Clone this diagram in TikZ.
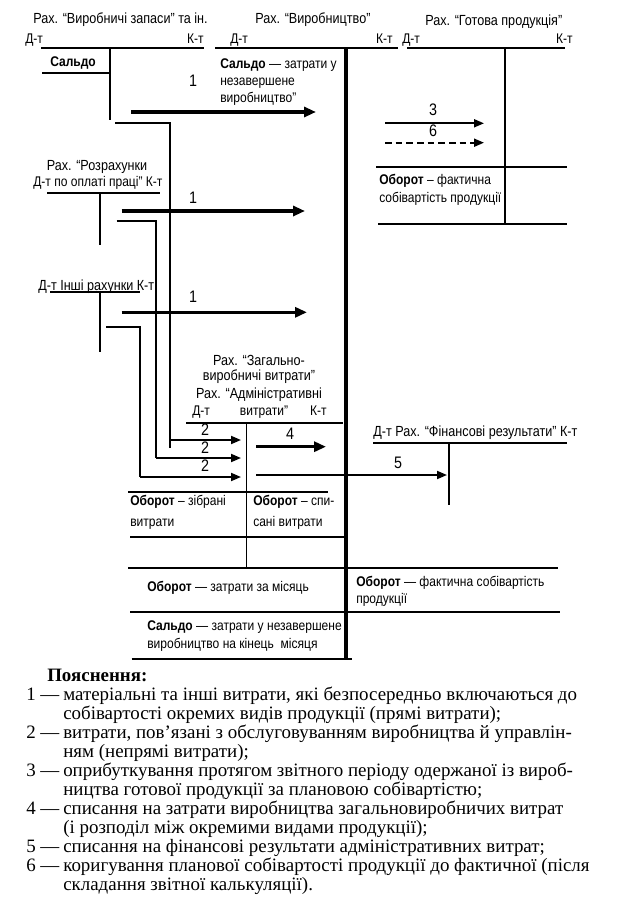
\documentclass[tikz,border=0pt]{standalone}
\usepackage{fontspec}
\setmainfont{Liberation Serif}
\newfontfamily\dfont[FakeStretch=0.86]{Liberation Sans}
\usetikzlibrary{arrows.meta}
\begin{document}
\begin{tikzpicture}[x=0.75pt,y=-0.75pt,
  acc/.style={line width=1.3pt},
  mainline/.style={line width=2.6pt},
  dt/.style={font=\dfont\fontsize{10.5}{12}\selectfont, inner sep=0pt},
  tt/.style={font=\dfont\fontsize{11}{13}\selectfont, inner sep=0pt},
  lw/.style={dt, anchor=mid west},
  le/.style={dt, anchor=mid east},
  lc/.style={dt, anchor=mid},
  tw/.style={tt, anchor=mid west},
  tc/.style={tt, anchor=mid},
  num/.style={font=\dfont\fontsize{12.5}{14}\selectfont, inner sep=0pt, anchor=mid},
  ex/.style={font=\fontsize{14.2}{16}\selectfont, inner sep=0pt, anchor=mid west},
  bigarr/.style={line width=2.4pt, -{Triangle[length=9pt,width=7.5pt]}},
  smallarr/.style={line width=1.4pt, -{Triangle[length=7.5pt,width=6pt]}},
  dasharr/.style={smallarr, dash pattern=on 5pt off 3pt}]
\useasboundingbox (0,0) rectangle (623,906);

% ---------- Account A: Виробничі запаси ----------
\node[tw] (Atitle) at (33,20) {Рах. “Виробничі запаси” та ін.};
\node[lw] (Adt) at (25,40) {Д-т};
\node[le] (Akt) at (204,40) {К-т};
\node[lw] (Asal) at (50,63) {\bfseries Сальдо};
\draw[acc] (41,48) coordinate (A1) -- (204,48) coordinate (A2);
\draw[acc] (110,48) coordinate (A3) -- (110,120) coordinate (A4);
\draw[acc] (42,73) coordinate (A5) -- (110,73) coordinate (A6);

% ---------- Account P: Виробництво ----------
\node[tw] (Ptitle) at (255,20) {Рах. “Виробництво”};
\node[lw] (Pdt) at (230,40) {Д-т};
\node[le] (Pkt) at (393,40) {К-т};
\node[lw] (Ps1) at (220,65) {{\bfseries Сальдо} — затрати у};
\node[lw] (Ps2) at (220,82) {незавершене};
\node[lw] (Ps3) at (220,99) {виробництво”};
\draw[acc] (215,48) coordinate (P1) -- (398,48) coordinate (P2);
\draw[mainline] (346,48) coordinate (P3) -- (346,659) coordinate (P4);

% ---------- Account G: Готова продукція ----------
\node[tw] (Gtitle) at (425,22) {Рах. “Готова продукція”};
\node[lw] (Gdt) at (402,40) {Д-т};
\node[le] (Gkt) at (573,40) {К-т};
\node[lw] (Go1) at (379,181) {{\bfseries Оборот} – фактична};
\node[lw] (Go2) at (379,199) {собівартість продукції};
\draw[acc] (407,48) coordinate (G1) -- (565,48) coordinate (G2);
\draw[acc] (505,48) coordinate (G3) -- (505,224) coordinate (G4);
\draw[acc] (376,166.7) coordinate (G5) -- (567,166.7) coordinate (G6);
\draw[acc] (378,224) coordinate (G7) -- (567,224) coordinate (G8);
\coordinate (a3s) at (385,123.3); \coordinate (a3e) at (484,123.3);
\coordinate (a6s) at (385,142.7); \coordinate (a6e) at (484,142.7);
\draw[smallarr] (a3s) -- (a3e);
\draw[dasharr] (a6s) -- (a6e);
\node[num] (l3) at (433,112) {3};
\node[num] (l6) at (433,133) {6};

% ---------- Account R: Розрахунки по оплаті праці ----------
\node[tc] (Rt1) at (97,167) {Рах. “Розрахунки};
\node[lw] (Rt2) at (33,183) {Д-т по оплаті праці” К-т};
\draw[acc] (47,193.3) coordinate (R1) -- (160,193.3) coordinate (R2);
\draw[acc] (100,193.3) coordinate (R3) -- (100,245) coordinate (R4);

% ---------- Account O: Інші рахунки ----------
\node[tw] (Ot) at (38,287) {Д-т Інші рахунки К-т};
\draw[acc] (50,291.7) coordinate (O1) -- (140,291.7) coordinate (O2);
\draw[acc] (100,291.7) coordinate (O3) -- (100,351.7) coordinate (O4);

% ---------- arrows 1 ----------
\coordinate (a1s) at (131,112);   \coordinate (a1e) at (316,112);
\coordinate (a1bs) at (121.7,211); \coordinate (a1be) at (305,211);
\coordinate (a1cs) at (121.7,312.3); \coordinate (a1ce) at (307,312.3);
\draw[bigarr] (a1s) -- (a1e);
\draw[bigarr] (a1bs) -- (a1be);
\draw[bigarr] (a1cs) -- (a1ce);
\node[num] (l1a) at (193,83) {1};
\node[num] (l1b) at (193,200) {1};
\node[num] (l1c) at (193,299) {1};

% ---------- brackets to account GV ----------
\draw[acc] (115,122.7) coordinate (B1a) -- (170,122.7) coordinate (B1b) -- (170,448) coordinate (B1c);
\draw[acc] (116.7,220.7) coordinate (B2a) -- (156,220.7) coordinate (B2b) -- (156,458) coordinate (B2c);
\draw[acc] (106,326.7) coordinate (B3a) -- (140,326.7) coordinate (B3b) -- (140,477) coordinate (B3c);
\coordinate (a2as) at (170,440);  \coordinate (a2ae) at (241,440);
\coordinate (a2be) at (241,458);
\coordinate (a2ce) at (241,477);
\draw[smallarr] (a2as) -- (a2ae);
\draw[smallarr] (B2c) -- (a2be);
\draw[smallarr] (B3c) -- (a2ce);
\node[num] (l2a) at (205,432) {2};
\node[num] (l2b) at (205,450) {2};
\node[num] (l2c) at (205,468) {2};

% ---------- Account GV ----------
\node[tc] (V1) at (259,362) {Рах. “Загально-};
\node[tc] (V2) at (259,377) {виробничі витрати”};
\node[tc] (V3) at (259,395) {Рах. “Адміністративні};
\node[lw] (Vdt) at (192,412) {Д-т};
\node[lc] (V4) at (264,412) {витрати”};
\node[le] (Vkt) at (327,412) {К-т};
\draw[acc] (186,423.3) coordinate (V5) -- (343,423.3) coordinate (V6);
\draw[acc] (246.5,423.3) coordinate (V7) -- (246.5,567.7) coordinate (V8);
\coordinate (a4s) at (256,446.7); \coordinate (a4e) at (326,446.7);
\draw[bigarr] (a4s) -- (a4e);
\node[num] (l4) at (290,436) {4};
\coordinate (a5s) at (256,475); \coordinate (a5e) at (447,475);
\draw[smallarr] (a5s) -- (a5e);
\node[num] (l5) at (398,465) {5};

% ---------- Account FR: Фінансові результати ----------
\node[tw] (Ft) at (373,433) {Д-т Рах. “Фінансові результати” К-т};
\draw[acc] (373,443.3) coordinate (F1) -- (567,443.3) coordinate (F2);
\draw[acc] (449,443.3) coordinate (F3) -- (449,505) coordinate (F4);

% ---------- lower part of GV and P ----------
\draw[acc] (128,491.7) coordinate (H1) -- (328,491.7) coordinate (H2);
\node[lw] (Vo1) at (130,502) {{\bfseries Оборот} – зібрані};
\node[lw] (Vo2) at (130,523) {витрати};
\node[lw] (Vo3) at (253,502) {{\bfseries Оборот} – спи-};
\node[lw] (Vo4) at (253,523) {сані витрати};
\draw[acc] (130,536.7) coordinate (H3) -- (346,536.7) coordinate (H4);
\draw[acc] (128,567.7) coordinate (H5) -- (558,567.7) coordinate (H6);
\node[lw] (Po1) at (147,588) {{\bfseries Оборот} — затрати за місяць};
\node[lw] (Po2) at (356,583) {{\bfseries Оборот} — фактична собівартість};
\node[lw] (Po3) at (356,600) {продукції};
\draw[acc] (130,611.7) coordinate (H7) -- (560,611.7) coordinate (H8);
\node[lw] (Pe1) at (147,627) {{\bfseries Сальдо} — затрати у незавершене};
\node[lw] (Pe2) at (147,645) {виробництво на кінець\ \ місяця};
\draw[acc] (131.7,659.3) coordinate (H9) -- (351.7,659.3) coordinate (H10);

% ---------- explanations ----------
\node[ex] (E0) at (47,678) {\bfseries Пояснення:};
\node[ex] (N1) at (26,697) {1 —};
\node[ex] (E1) at (63,697) {матеріальні та інші витрати, які безпосередньо включаються до};
\node[ex] (E2) at (63,716) {собівартості окремих видів продукції (прямі витрати);};
\node[ex] (N2) at (26,735) {2 —};
\node[ex] (E3) at (63,735) {витрати, пов’язані з обслуговуванням виробництва й управлін-};
\node[ex] (E4) at (63,754) {ням (непрямі витрати);};
\node[ex] (N3) at (26,773) {3 —};
\node[ex] (E5) at (63,773) {оприбуткування протягом звітного періоду одержаної із вироб-};
\node[ex] (E6) at (63,792) {ництва готової продукції за плановою собівартістю;};
\node[ex] (N4) at (26,811) {4 —};
\node[ex] (E7) at (63,811) {списання на затрати виробництва загальновиробничих витрат};
\node[ex] (E8) at (63,830) {(і розподіл між окремими видами продукції);};
\node[ex] (N5) at (26,849) {5 —};
\node[ex] (E9) at (63,849) {списання на фінансові результати адміністративних витрат;};
\node[ex] (N6) at (26,868) {6 —};
\node[ex] (E10) at (63,868) {коригування планової собівартості продукції до фактичної (після};
\node[ex] (E11) at (63,887) {складання звітної калькуляції).};
\end{tikzpicture}
\end{document}
